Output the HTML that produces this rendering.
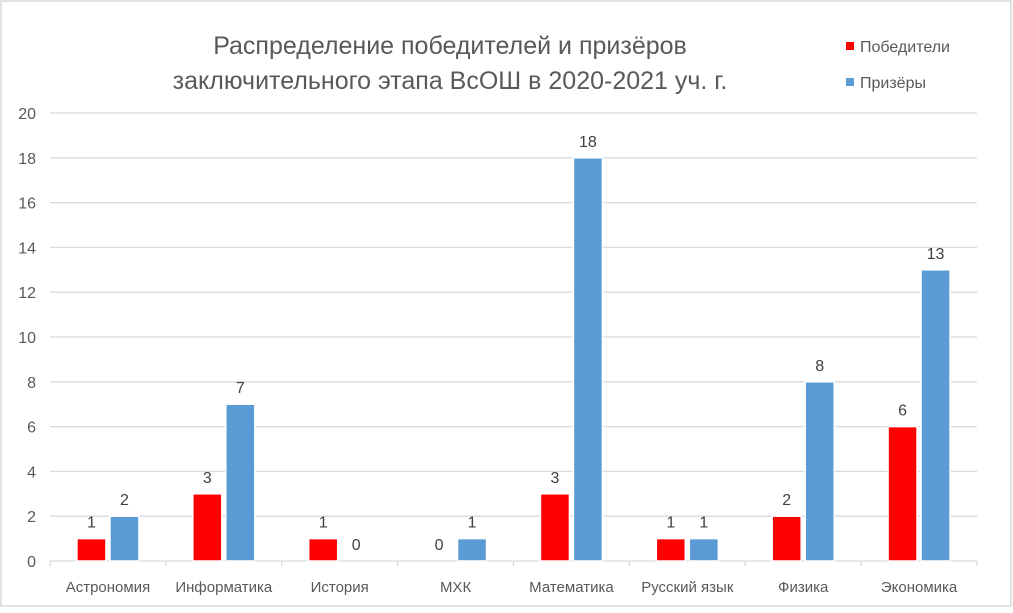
<!DOCTYPE html>
<html><head><meta charset="utf-8">
<style>
html,body{margin:0;padding:0;background:#fff;}
body{width:1013px;height:608px;overflow:hidden;font-family:"Liberation Sans",sans-serif;}
svg text{font-family:"Liberation Sans",sans-serif;}
</style></head><body>
<svg id="chart" width="1013" height="608" xmlns="http://www.w3.org/2000/svg">
<rect x="1" y="1" width="1010" height="605" fill="#fff" stroke="#d9d9d9" stroke-width="1.5"/>
<text x="450" y="54" text-anchor="middle" font-size="25" fill="#595959">Распределение победителей и призёров</text>
<text x="450" y="89" text-anchor="middle" font-size="25" fill="#595959">заключительного этапа ВсОШ в 2020-2021 уч. г.</text>
<g>
<rect x="846" y="42" width="8" height="8" fill="#ff0000"/>
<text x="860" y="52" font-size="16" fill="#595959">Победители</text>
<rect x="846" y="78" width="8" height="8" fill="#5b9bd5"/>
<text x="860" y="88" font-size="16" fill="#595959">Призёры</text>
</g>
<g id="grid"></g><g id="bars"></g><g id="labels"></g>
</svg>
<script>
const categories = ["Астрономия","Информатика","История","МХК","Математика","Русский язык","Физика","Экономика"];
const winners = [1,3,1,0,3,1,2,6];
const prizewinners = [2,7,0,1,18,1,8,13];
const yTicks = [0,2,4,6,8,10,12,14,16,18,20];
const NS="http://www.w3.org/2000/svg";
const x0=50,x1=977,yBase=561,yTop=113,yMax=20;
const bw=(x1-x0)/categories.length;
function y(v){return yBase-(v/yMax)*(yBase-yTop);}
function cx(i){return x0+bw*(i+0.5);}
function mk(tag,attrs,parent){const e=document.createElementNS(NS,tag);for(const k in attrs)e.setAttribute(k,attrs[k]);parent.appendChild(e);return e;}
const grid=document.getElementById('grid'),bars=document.getElementById('bars'),labels=document.getElementById('labels');
yTicks.forEach(t=>{
  if(t>0){const l=mk('line',{x1:x0,x2:x1,y1:y(t),y2:y(t),stroke:'#d9d9d9','stroke-width':1.3},grid);
  
  }
  const tx=mk('text',{x:36,y:y(t)+6,'text-anchor':'end','font-size':16,fill:'#595959'},grid);
  tx.textContent=t;
  
  
});
const ax=mk('line',{x1:x0,x2:x1,y1:yBase,y2:yBase,stroke:'#d9d9d9','stroke-width':1.3},grid);


for(let i=0;i<=categories.length;i++){
  const tk=mk('line',{x1:x0+bw*i,x2:x0+bw*i,y1:yBase,y2:yBase+5,stroke:'#d9d9d9','stroke-width':1.3},grid);
  
  
}
categories.forEach((c,i)=>{
  const t=mk('text',{x:cx(i),y:592,'text-anchor':'middle','font-size':15,fill:'#595959'},labels);
  t.textContent=c;
  
  
  [[winners,'#ff0000',-31,'winners'],[prizewinners,'#5b9bd5',2,'prizewinners']].forEach(([arr,col,off,nm])=>{
    const v=arr[i];const bx=cx(i)+off;
    if(v>0){const r=mk('rect',{x:bx,y:y(v),width:29,height:yBase-y(v),fill:col,stroke:'#fff','stroke-width':1.5},bars);
    
    }
    const lt=mk('text',{x:bx+14.5,y:y(v)-11,'text-anchor':'middle','font-size':16,fill:'#404040'},labels);
    lt.textContent=v;
    
    
  });
});
</script>
</body></html>
